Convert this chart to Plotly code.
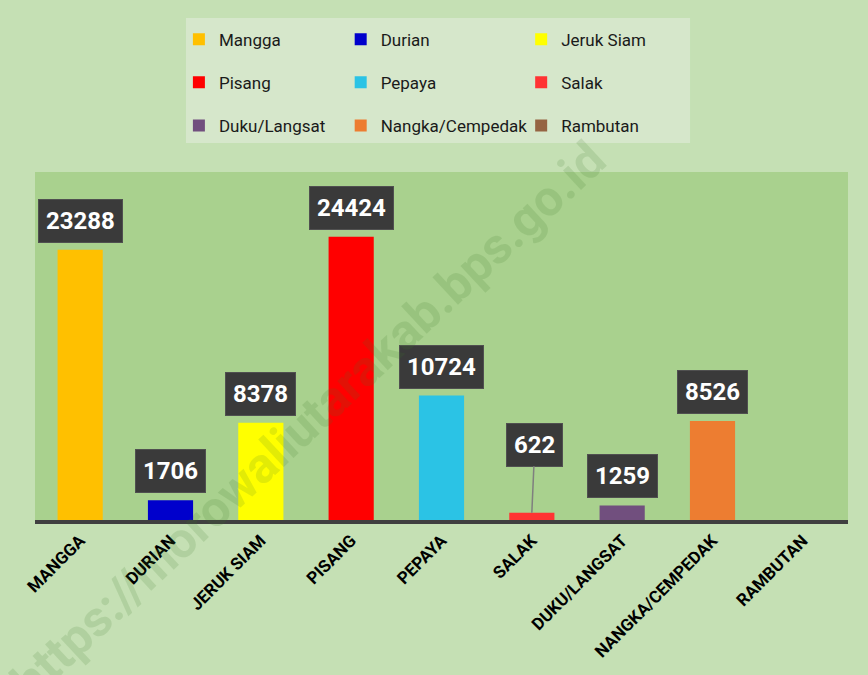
import plotly.graph_objects as go

categories = ["Mangga", "Durian", "Jeruk Siam", "Pisang", "Pepaya", "Salak",
              "Duku/Langsat", "Nangka/Cempedak", "Rambutan"]
tick_labels = ["MANGGA", "DURIAN", "JERUK SIAM", "PISANG", "PEPAYA", "SALAK",
               "DUKU/LANGSAT", "NANGKA/CEMPEDAK", "RAMBUTAN"]
values = [23288, 1706, 8378, 24424, 10724, 622, 1259, 8526, 0]
colors = ["#FFC000", "#0000CC", "#FFFF00", "#FF0000", "#2BC3E5", "#FF3333",
          "#714F7E", "#ED7D31", "#956443"]
# legend column assignment (legend shows 3 columns, filled row by row)
legend_cols = ["legend", "legend2", "legend3"] * 3

FONT = "Roboto, Noto Sans, sans-serif"

fig = go.Figure()
for i, (cat, tl, v, c) in enumerate(zip(categories, tick_labels, values, colors)):
    fig.add_trace(go.Bar(
        x=[tl], y=[v], name=cat, marker=dict(color=c, line=dict(width=0)),
        width=0.5, showlegend=True, legend=legend_cols[i], legendgroup=cat,
    ))

# value labels
for tl, v in zip(tick_labels, values):
    if v <= 0:
        continue
    common = dict(
        x=tl, y=v, xref="x", yref="y", text=f"<b>{v}</b>",
        bgcolor="#3A3A3A", bordercolor="#505050", borderwidth=1, borderpad=7,
        font=dict(family=FONT, size=24, color="white"),
    )
    if tl == "SALAK":
        fig.add_annotation(
            showarrow=True, arrowhead=0, arrowwidth=1.5, arrowcolor="#7F7F7F",
            ax=3, ay=-68, axref="pixel", ayref="pixel", **common)
    else:
        fig.add_annotation(showarrow=False, yshift=29, yanchor="middle", **common)

# watermark
fig.add_annotation(
    x=0.336, y=0.285, xref="paper", yref="paper", xanchor="center", yanchor="middle",
    text="https://morowaliutarakab.bps.go.id", showarrow=False,
    textangle=-43,
    font=dict(family=FONT, size=50, color="rgba(60,120,40,0.15)", weight="bold"),
)

# legend background box
fig.add_shape(type="rect", xref="paper", yref="paper",
              x0=0.1857, x1=0.8057, y0=1.0833, y1=1.4425,
              fillcolor="#D6E7CB", line=dict(width=0), layer="below")

leg_common = dict(
    orientation="v", yanchor="top", xanchor="left", y=1.432,
    bgcolor="rgba(0,0,0,0)", tracegroupgap=18, itemwidth=30,
    font=dict(family=FONT, size=17, color="#1A1A1A"),
)

fig.update_layout(
    width=868, height=675,
    margin=dict(l=35, r=20, t=172, b=155, autoexpand=False),
    paper_bgcolor="#C5E0B4",
    plot_bgcolor="#A9D18E",
    barmode="overlay",
    showlegend=True,
    legend=dict(x=0.177, **leg_common),
    legend2=dict(x=0.376, **leg_common),
    legend3=dict(x=0.598, **leg_common),
    xaxis=dict(
        showline=True, linewidth=4, linecolor="#404040",
        tickangle=-45, showgrid=False, ticks="",
        tickfont=dict(family=FONT, size=17, color="black", weight="bold"),
    ),
    yaxis=dict(range=[0, 30000], showticklabels=False, showgrid=False,
               zeroline=False, showline=False),
)

fig.write_html("out.html",
               config={"displayModeBar": False},
               post_script="document.body.style.margin='0';"
                           "document.documentElement.style.overflow='hidden';")
